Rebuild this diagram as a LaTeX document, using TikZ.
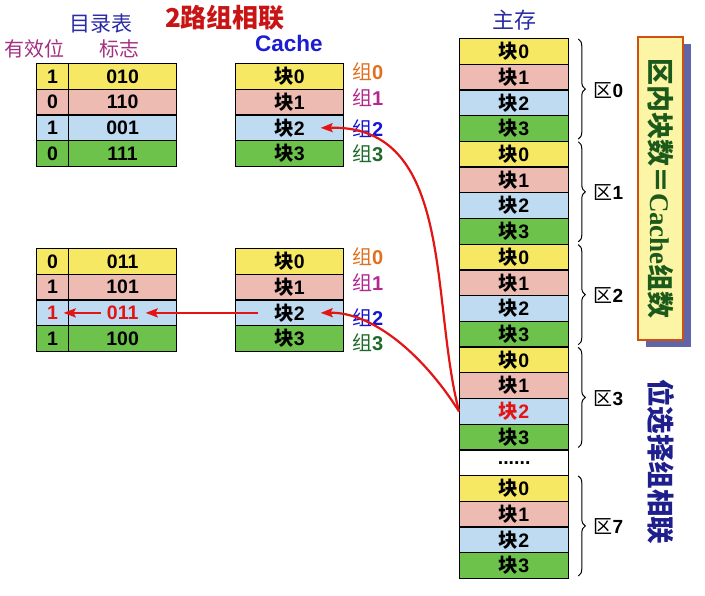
\documentclass[tikz,border=0pt]{standalone}
\usepackage{fontspec}
\setmainfont{Liberation Sans}
\newfontfamily\cjk{Noto Sans CJK SC}
\newfontfamily\serifb{Liberation Serif}
\usetikzlibrary{decorations.pathreplacing,arrows.meta,calc}
\definecolor{cy}{HTML}{F7E863}
\definecolor{cp}{HTML}{EDBBB2}
\definecolor{cb}{HTML}{BFDBF1}
\definecolor{cg}{HTML}{6CC24A}
\definecolor{cred}{HTML}{E31414}
\definecolor{ctitle}{HTML}{C81414}
\definecolor{cnavy}{HTML}{2B2BA8}
\definecolor{cmag}{HTML}{A33080}
\definecolor{ccache}{HTML}{1C1CD0}
\definecolor{gorange}{HTML}{E0701E}
\definecolor{gmag}{HTML}{B3278E}
\definecolor{gblue}{HTML}{1515D5}
\definecolor{ggreen}{HTML}{1E6A2A}
\definecolor{boxfill}{HTML}{FBF5A5}
\definecolor{boxdraw}{HTML}{D0500F}
\definecolor{boxshadow}{HTML}{6065A8}
\definecolor{boxtext}{HTML}{1C5A1C}
\definecolor{wsel}{HTML}{1E1E8C}
\newcommand\zh[1]{{\cjk #1}}
\begin{document}
\begin{tikzpicture}[x=1pt,y=-1pt,
  cell/.style={draw=black, line width=1.3pt, anchor=north west, inner sep=0pt,
    minimum height=25.7pt, font=\fontsize{19.5}{21}\selectfont\bfseries},
  glabel/.style={anchor=west, inner sep=0pt, font=\fontsize{20}{22}\selectfont},
  zlabel/.style={anchor=west, inner sep=0pt, font=\fontsize{19}{21}\selectfont},
  zbrace/.style={decorate, decoration={brace, amplitude=7pt}, line width=1pt},
  redarrow/.style={draw=cred, line width=2.2pt, -{Stealth[length=12pt,width=9pt,inset=2pt]}},
  hl32/.style={text=cred}]
\useasboundingbox (0,0) rectangle (705,596);

% titles
\node[font=\cjk\bfseries\fontsize{26}{28}\selectfont, text=ctitle] (title) at (225,18) {2路组相联};
\node[font=\cjk\fontsize{21}{23}\selectfont, text=cnavy] (mlb) at (101,24) {目录表};
\node[font=\cjk\fontsize{20}{22}\selectfont, text=cmag] (yxw) at (35,49) {有效位};
\node[font=\cjk\fontsize{20}{22}\selectfont, text=cmag] (bz) at (119,49) {标志};
\node[font=\bfseries\fontsize{22.5}{24}\selectfont, text=ccache] (cachelbl) at (289,43) {Cache};
\node[font=\cjk\fontsize{22}{24}\selectfont, text=cnavy] (zc) at (514,20) {主存};

% top directory and cache
\foreach \i/\c/\v/\t in {0/cy/1/010,1/cp/0/110,2/cb/1/001,3/cg/0/111} {
  \node[cell, fill=\c, minimum width=32pt] (dav\i) at (36,{63+25.7*\i}) {\v};
  \node[cell, fill=\c, minimum width=108pt] (dat\i) at (68,{63+25.7*\i}) {\t};
  \node[cell, fill=\c, minimum width=108pt] (c1b\i) at (235,{63+25.7*\i}) {\zh{块}\i};
}
% bottom directory and cache
\foreach \i/\c/\v/\t/\tc in {0/cy/0/011/black,1/cp/1/101/black,2/cb/1/011/cred,3/cg/1/100/black} {
  \node[cell, fill=\c, text=\tc, minimum width=32pt] (dbv\i) at (36,{248+25.7*\i}) {\v};
  \node[cell, fill=\c, text=\tc, minimum width=108pt] (dbt\i) at (68,{248+25.7*\i}) {\t};
  \node[cell, fill=\c, minimum width=108pt] (c2b\i) at (235,{248+25.7*\i}) {\zh{块}\i};
}
% group labels
\foreach \i/\c/\ya/\yb in {0/gorange/72/257,1/gmag/98/283,2/gblue/129/318,3/ggreen/154/343} {
  \node[glabel, text=\c] (ga\i) at (352,\ya) {\zh{组}\textbf{\i}};
  \node[glabel, text=\c] (gb\i) at (352,\yb) {\zh{组}\textbf{\i}};
}

% main memory
\foreach \z in {0,...,3} {
  \foreach \b/\c in {0/cy,1/cp,2/cb,3/cg} {
    \node[cell, fill=\c, minimum width=109pt, hl\z\b/.try] (m\z\b) at (459,{38+25.7*(4*\z+\b)}) {\zh{块}\b};
  }
  \draw[zbrace] ([xshift=9pt,yshift=-1pt]m\z0.north east) -- ([xshift=9pt,yshift=3pt]m\z3.south east);
  \node[zlabel] (z\z) at ([xshift=24pt]$(m\z0.north east)!0.5!(m\z3.south east)$) {\zh{区}\textbf{\z}};
}
\node[cell, fill=white, minimum width=109pt] (mdots) at (459,{38+25.7*16}) {......};
\foreach \b/\c in {0/cy,1/cp,2/cb,3/cg} {
  \node[cell, fill=\c, minimum width=109pt] (m7\b) at (459,{38+25.7*(17+\b)}) {\zh{块}\b};
}
\draw[zbrace] ([xshift=9pt,yshift=-1pt]m70.north east) -- ([xshift=9pt,yshift=3pt]m73.south east);
\node[zlabel] (z7) at ([xshift=24pt]$(m70.north east)!0.5!(m73.south east)$) {\zh{区}\textbf{7}};

% right box
\node[fill=boxshadow, rotate=-90, minimum width=303pt, minimum height=45pt, inner sep=0pt] (rbs) at (668.5,195.5) {};
\node[draw=boxdraw, fill=boxfill, line width=2.5pt, rotate=-90, minimum width=303pt, minimum height=45pt, inner sep=0pt,
  text=boxtext, font=\bfseries\fontsize{27}{29}\selectfont] (rb) at (660.5,188.5)
  {\zh{区内块数＝}{\serifb Cache}\zh{组数}};
\node[rotate=-90, text=wsel, font=\cjk\bfseries\fontsize{27.5}{29}\selectfont] (wxz) at (661,462) {位选择组相联};

% arrows
\coordinate (s) at (m32.west);
\coordinate (t1) at ([xshift=31pt]c1b2.center);
\coordinate (t2) at ([xshift=31pt]c2b2.center);
\draw[redarrow] (s) .. controls (430,300) and (455,125) .. (t1);
\draw[redarrow] (s) .. controls (420,350) and (370,312) .. (t2);
\draw[redarrow] ([xshift=-32pt]c2b2.center) -- ([xshift=23pt]dbt2.center);
\draw[redarrow] ([xshift=-22pt]dbt2.center) -- ([xshift=11pt]dbv2.center);
\end{tikzpicture}
\end{document}
